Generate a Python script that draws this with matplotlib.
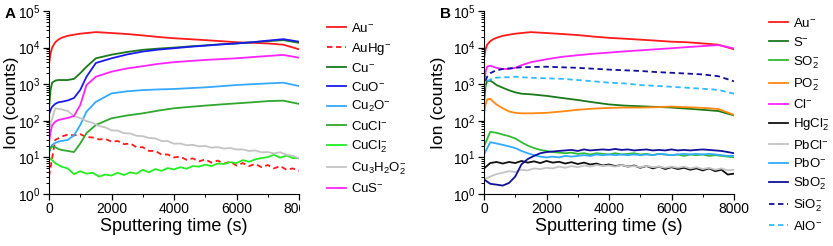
import matplotlib
matplotlib.use("Agg")
import matplotlib.pyplot as plt
from matplotlib.ticker import FixedLocator, LogLocator, NullFormatter
from matplotlib.transforms import Bbox, TransformedBbox

plt.rcParams["font.family"] = ["Liberation Sans", "DejaVu Sans"]
plt.rcParams["mathtext.fontset"] = "custom"
plt.rcParams["mathtext.rm"] = "Liberation Sans"
plt.rcParams["mathtext.it"] = "Liberation Sans:italic"
plt.rcParams["mathtext.bf"] = "Liberation Sans:bold"

# --- time grids (s) ---
t_smooth = [0, 50, 100, 200, 300, 400, 600, 800, 1000, 1200, 1500, 2000, 2500,
            3000, 3500, 4000, 4500, 5000, 5500, 6000, 6500, 7000, 7500, 8000]
t_noisy = list(range(0, 8001, 200))

# --- panel A: smooth series (on t_smooth) ---
a_au = [3500, 7000, 10000, 14000, 16500, 18500, 21000, 22500, 24000, 25000, 26500, 25000,
        23500, 21500, 19500, 18000, 17000, 16000, 15000, 14000, 13500, 13000, 12000, 9000]
a_cu = [220, 700, 1100, 1250, 1300, 1300, 1300, 1400, 2000, 3000, 5100, 6400,
        7600, 8700, 9400, 10000, 10800, 11500, 12300, 13000, 14000, 15000, 16000, 13500]
a_cuo = [150, 200, 240, 290, 320, 330, 360, 420, 700, 1600, 3800, 5100,
         6500, 7800, 8800, 9600, 10500, 11300, 12200, 13000, 14000, 15500, 17000, 14500]
a_cu2o = [14, 18, 22, 25, 27, 28, 30, 40, 77, 178, 330, 560,
          640, 690, 720, 740, 780, 820, 880, 950, 1000, 1050, 1100, 890]
a_cucl = [14, 18, 20, 19, 17, 16, 15, 14, 24, 46, 77, 117,
          140, 160, 190, 220, 240, 260, 280, 300, 320, 345, 355, 290]
a_cus = [25, 50, 75, 95, 105, 110, 120, 135, 270, 950, 1600, 2200,
         2700, 3100, 3600, 4000, 4300, 4600, 4850, 5100, 5500, 5900, 6300, 5300]

# --- panel A: noisy series (on t_noisy) ---
a_auhg = [3, 30, 37, 42, 40, 43, 36, 35, 31, 32, 27, 28, 23, 24, 19, 19, 15, 15, 12, 12, 10,
          10.5, 8.6, 9.4, 7.8, 8.8, 7.2, 8.2, 6.8, 7.6, 6, 7, 5.8, 6.6, 5.4, 6.2, 5, 5.8, 4.6, 5, 4.3]
a_cucl2 = [10, 7, 5.6, 5, 3.5, 4.2, 3.6, 3.8, 3.0, 3.4, 3.2, 3.8, 3.3, 3.9, 3.6, 4.6, 3.9, 4.8, 4.3, 5.1,
           4.7, 5.4, 4.9, 5.8, 5.6, 6.3, 5.8, 6.8, 6.6, 7.4, 7.0, 8.4, 7.6, 8.8, 9.6, 10.2, 11.8,
           9.8, 11.2, 9.6, 9.5]
a_cu3h2o2 = [60, 220, 205, 185, 135, 118, 98, 88, 72, 66, 55, 54, 46, 45, 39, 38, 34, 33, 28, 28,
             23.5, 24, 21.5, 22, 20, 20.5, 18.5, 19, 17.5, 18, 16.5, 16.5, 15, 15.5, 13.8, 14,
             12.8, 13.8, 11.8, 11, 9.5]

# --- panel B: smooth series (on t_smooth) ---
b_au = [5000, 9000, 12000, 15000, 17000, 18500, 21000, 22500, 24000, 25000, 26500, 25000,
        23500, 22000, 20000, 18500, 17500, 16500, 15500, 14500, 14000, 13000, 12000, 9000]
b_s = [300, 900, 1200, 1250, 1100, 950, 800, 680, 600, 550, 530, 480,
       420, 370, 320, 280, 260, 250, 240, 230, 215, 200, 185, 140]
b_po2 = [150, 280, 380, 400, 330, 280, 220, 180, 165, 160, 160, 165,
         180, 200, 215, 225, 230, 230, 235, 245, 235, 225, 210, 145]
b_cl = [800, 2200, 3000, 3200, 3000, 2800, 2600, 2600, 2800, 3300, 4000, 4800,
        5600, 6200, 6800, 7300, 7900, 8400, 9000, 9600, 10300, 11000, 11700, 9500]
b_sio2 = [700, 1200, 1600, 2000, 2200, 2400, 2600, 2700, 2800, 2900, 2950, 3000,
          2900, 2800, 2650, 2500, 2400, 2300, 2150, 2050, 1950, 1850, 1650, 1200]
b_alo = [700, 1000, 1200, 1350, 1450, 1500, 1550, 1550, 1600, 1550, 1500, 1450,
         1400, 1300, 1200, 1100, 1050, 950, 900, 850, 800, 750, 700, 550]

# --- panel B: noisy series (on t_noisy) ---
b_so2 = [20, 50, 47, 42, 38, 33, 26, 21, 18, 16, 15, 14, 13.5, 13, 13.5, 12.5, 13, 12, 13, 12.5,
         12, 13, 12, 12.5, 13, 12, 12.5, 11.5, 12.5, 12, 11.5, 12, 11, 12, 11.5, 12, 11, 11.5,
         11, 10.5, 10]
b_hgcl2 = [5, 7, 7.5, 6.8, 7.5, 7, 8, 7.2, 7.8, 7, 8, 7.2, 7.6, 6.8, 7.4, 6.6, 7.2, 6.4, 6.8, 6,
           6.4, 5.8, 6.2, 5.6, 6, 5.2, 5.8, 5, 5.6, 4.8, 5.4, 4.8, 5.2, 4.6, 5, 4.4, 5, 4.2, 4.6,
           3.4, 3.6]
b_pbcl = [2.5, 3, 3.5, 3.8, 4.2, 4, 4.6, 4.4, 5, 4.8, 5.2, 5, 5.6, 5.2, 5.8, 5.4, 6, 5.6, 6.2, 5.8,
          6, 5.6, 6.2, 5.6, 5.8, 5.4, 5.8, 5.4, 5.6, 5.2, 5.6, 5.2, 5.6, 5, 5.4, 4.8, 5.2, 4.6, 5,
          4.4, 4.6]
b_pbo = [12, 26, 24, 22, 20, 18, 15, 13, 11.5, 10.5, 10, 10.5, 10, 11, 10.5, 11, 11.5, 11, 12, 11.5,
         12, 11.5, 12, 11.5, 12, 11.5, 12, 11.5, 12.5, 12, 11.5, 12, 12.5, 12, 12.5, 12, 12.5, 12,
         11.5, 11, 11]
b_sbo2 = [2.5, 1.9, 1.8, 1.7, 2.0, 3.0, 6.5, 9, 11, 13, 14, 14.5, 15, 15.5, 16, 15, 16.5, 15.5, 16,
          16.5, 16, 17, 16, 16.5, 15.5, 16, 16.5, 15.5, 16, 15.5, 16.5, 15.5, 16, 15.5, 16, 16.5,
          16, 15.5, 15, 14, 13]

# (label, x, y, color, linestyle)
series_a = [
    (r"Au$^{-}$", t_smooth, a_au, "#ff1a1a", "-"),
    (r"AuHg$^{-}$", t_noisy, a_auhg, "#ff1a1a", (0, (3, 2))),
    (r"Cu$^{-}$", t_smooth, a_cu, "#1a7a1a", "-"),
    (r"CuO$^{-}$", t_smooth, a_cuo, "#1a1aee", "-"),
    (r"Cu$_2$O$^{-}$", t_smooth, a_cu2o, "#33aaff", "-"),
    (r"CuCl$^{-}$", t_smooth, a_cucl, "#2ea82e", "-"),
    (r"CuCl$_2^{-}$", t_noisy, a_cucl2, "#22ee22", "-"),
    (r"Cu$_3$H$_2$O$_2^{-}$", t_noisy, a_cu3h2o2, "#c4c4c4", "-"),
    (r"CuS$^{-}$", t_smooth, a_cus, "#ff22ff", "-"),
]
series_b = [
    (r"Au$^{-}$", t_smooth, b_au, "#ff1a1a", "-"),
    (r"S$^{-}$", t_smooth, b_s, "#1a7a1a", "-"),
    (r"SO$_2^{-}$", t_noisy, b_so2, "#33bb33", "-"),
    (r"PO$_2^{-}$", t_smooth, b_po2, "#ff8811", "-"),
    (r"Cl$^{-}$", t_smooth, b_cl, "#ff22ff", "-"),
    (r"HgCl$_2^{-}$", t_noisy, b_hgcl2, "#111111", "-"),
    (r"PbCl$^{-}$", t_noisy, b_pbcl, "#c4c4c4", "-"),
    (r"PbO$^{-}$", t_noisy, b_pbo, "#33aaff", "-"),
    (r"SbO$_2^{-}$", t_noisy, b_sbo2, "#10109a", "-"),
    (r"SiO$_2^{-}$", t_smooth, b_sio2, "#10109a", (0, (3, 2))),
    (r"AlO$^{-}$", t_smooth, b_alo, "#33bbff", (0, (3, 2))),
]

W, H = 833, 246
fig = plt.figure(figsize=(W / 100, H / 100), dpi=100)


def panel(left_px, series, letter, leg_xy, ylab_px):
    ax = fig.add_axes([left_px / W, 1 - 194 / H, 250 / W, 183 / H])
    for label, x, y, c, ls in series:
        ax.plot(x, y, color=c, ls=ls, lw=1.3, label=label)
    ax.set_yscale("log")
    ax.set_xlim(0, 8000)
    ax.set_ylim(1, 1e5)
    ax.xaxis.set_major_locator(FixedLocator([0, 2000, 4000, 6000, 8000]))
    ax.xaxis.set_minor_locator(FixedLocator([1000, 3000, 5000, 7000]))
    ax.yaxis.set_major_locator(LogLocator(base=10, numticks=10))
    ax.yaxis.set_minor_locator(LogLocator(base=10, subs=range(2, 10), numticks=20))
    ax.yaxis.set_minor_formatter(NullFormatter())
    for s in ("top", "right"):
        ax.spines[s].set_visible(False)
    ax.tick_params(which="major", length=4, width=0.9, labelsize=10, pad=2)
    ax.tick_params(which="minor", length=2.2, width=0.7)
    ax.set_xlabel("Sputtering time (s)", fontsize=13, labelpad=1)
    ax.set_ylabel("Ion (counts)", fontsize=12.5)
    # right edge of the rotated label, in pixels
    ax.yaxis.set_label_coords((ylab_px - left_px) / 250, 0.5)
    fig.text((left_px - 44) / W, 1 - 18 / H, letter, fontsize=11, fontweight="bold")
    ax.legend(loc="upper left", bbox_to_anchor=(leg_xy[0] / W, 1 - leg_xy[1] / H),
              bbox_transform=fig.transFigure, frameon=False, fontsize=9.5,
              handlelength=1.45, handletextpad=0.35, labelspacing=0.42,
              borderpad=0, borderaxespad=0)
    return ax


ax_a = panel(49, series_a, "A", (327, 22), 19)
ax_b = panel(484, series_b, "B", (769, 17), 446)

# the last x label of panel A is cut off by the legend area in the original
clip = TransformedBbox(Bbox([[0, 0], [300 / W, 1]]), fig.transFigure)
for tick in ax_a.xaxis.get_major_ticks():
    tick.label1.set_clip_box(clip)
    tick.label1.set_clip_on(True)

fig.savefig("out.png", dpi=100)
